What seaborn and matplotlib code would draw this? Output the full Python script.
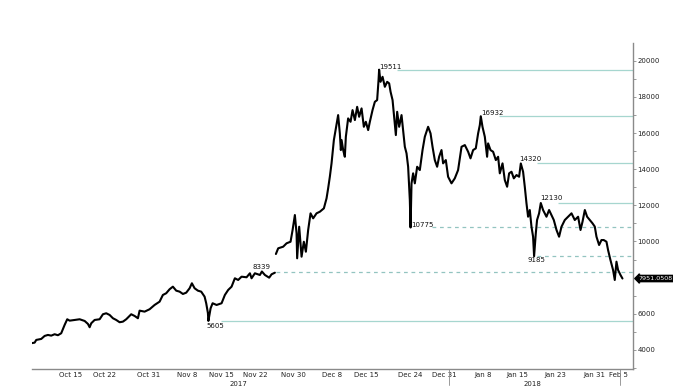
import matplotlib
matplotlib.use("Agg")
import matplotlib.pyplot as plt
import matplotlib.ticker as mticker
import seaborn as sns
import pandas as pd

sns.set_style("white")
plt.rcParams['font.family'] = ['DejaVu Sans']

# days counted from Oct 15 2017, prices
START = pd.Timestamp("2017-10-15")

days_a = [-8.12, -7.42, -7.09, -6.06, -5.36, -4.68, -4.00, -3.30, -2.62, -1.94,
          -1.24, -0.70, -0.20, 0.83, 1.86, 2.89, 3.57, 3.92, 4.25, 4.95,
          5.98, 6.66, 7.34, 8.04, 8.72, 9.40, 10.10, 10.78, 11.46, 12.49,
          13.19, 13.87, 14.22, 15.25, 16.28, 17.31, 18.34, 19.02, 19.70, 20.40,
          21.08, 21.77, 22.47, 23.15, 23.83, 24.53, 25.00, 25.56, 26.24, 26.92,
          27.62, 27.95, 28.30, 28.40, 28.86, 29.27, 30.09, 31.12, 31.80, 32.48,
          33.18, 33.86, 34.54, 35.24, 36.27, 36.96, 37.30, 37.99, 39.02, 39.43,
          40.05, 40.93, 41.43, 42.11]
price_a = [4369, 4402, 4552, 4607, 4773, 4828, 4790, 4867, 4812, 4922,
           5381, 5696, 5619, 5657, 5696, 5602, 5437, 5254, 5475, 5657,
           5696, 5973, 6028, 5934, 5752, 5657, 5531, 5564, 5696, 5973,
           5879, 5752, 6173, 6118, 6250, 6487, 6670, 7041, 7135, 7356,
           7500, 7279, 7224, 7096, 7168, 7411, 7688, 7411, 7279, 7224,
           6947, 6582, 6045, 5605, 6305, 6582, 6487, 6582, 7041, 7318,
           7500, 7964, 7870, 8053, 8020, 8241, 7964, 8241, 8147, 8339,
           8147, 7998, 8185, 8274]

days_b = [42.32, 42.79, 43.82, 44.52, 45.34, 45.76, 46.23, 46.58, 46.70, 47.12,
          47.61, 48.08, 48.50, 48.97, 49.46, 50.00, 50.70, 51.38, 52.21, 52.76,
          53.09, 53.44, 53.79, 54.27, 54.68, 55.15, 55.50, 55.71, 55.86, 56.19,
          56.53, 56.74, 57.21, 57.71, 58.12, 58.60, 59.07, 59.48, 59.98, 60.45,
          60.86, 61.34, 61.69, 62.24, 62.72, 63.19, 63.48, 63.60, 63.89, 64.31,
          64.78, 65.26, 65.67, 65.96, 66.37, 66.70, 67.05, 67.32, 67.73, 68.22,
          68.55, 68.90, 69.25, 69.58, 69.93, 70.08, 70.28, 70.61, 70.96, 71.44,
          71.99, 72.55, 73.02, 73.70, 74.20, 74.61, 75.08, 75.56, 75.97, 76.46,
          76.79, 77.35, 77.82, 78.52, 79.20, 79.88, 80.59, 81.27, 81.95, 82.44,
          82.98, 83.53, 84.01, 84.36, 84.56, 84.91, 85.39, 85.86, 86.07, 86.56,
          87.10, 87.66, 88.13, 88.48, 89.04, 89.51, 89.99, 90.40, 90.89, 91.37,
          91.92, 92.46, 92.81, 93.28, 93.63, 93.98, 94.31, 94.66, 95.01, 95.34,
          95.55, 95.90, 96.16, 96.58, 96.93, 97.40, 98.10, 98.64, 99.13, 99.61,
          100.17, 100.70, 101.20, 101.88, 102.56, 103.26, 103.94, 104.62, 105.12, 105.53,
          106.01, 106.48, 107.03, 107.59, 108.06, 108.41, 108.95, 109.44, 109.91, 110.47,
          110.80, 111.29, 111.83, 112.18, 112.53, 112.86, 113.36, 113.77]
price_b = [9308, 9623, 9712, 9900, 9988, 10636, 11465, 10453, 9070, 10818,
           9159, 9988, 9435, 10636, 11559, 11282, 11559, 11648, 11835, 12389,
           12942, 13584, 14325, 15614, 16261, 16996, 15984, 15061, 15614, 15061,
           14690, 15796, 16813, 16626, 17273, 16720, 17455, 16902, 17367, 16349,
           16626, 16167, 16626, 17273, 17732, 17826, 18932, 19511, 18838, 19115,
           18562, 18838, 18750, 18285, 17826, 16902, 15890, 17179, 16349, 16996,
           16167, 15243, 14878, 14137, 12295, 10775, 13219, 13772, 13219, 14137,
           13954, 15061, 15796, 16349, 15984, 15243, 14507, 14137, 14690, 15061,
           14325, 14507, 13584, 13219, 13495, 13954, 15243, 15337, 14967, 14602,
           15061, 15155, 15984, 16443, 16932, 16349, 15796, 14690, 15431, 15061,
           14967, 14507, 14690, 13772, 14325, 13401, 13031, 13772, 13861, 13495,
           13678, 13584, 14320, 13861, 13031, 12112, 11371, 11742, 10818, 10265,
           9185, 10453, 11189, 11559, 12130, 11742, 11371, 11742, 11466, 11189,
           10636, 10265, 10818, 11189, 11371, 11559, 11189, 11371, 10636, 11095,
           11742, 11371, 11189, 11007, 10825, 10265, 9806, 10081, 10081, 9988,
           9528, 8975, 8423, 7870, 8883, 8423, 8147, 7951]

last_price = "7951.0508"

# highs / lows marked on the chart
level_values = [19511, 16932, 14320, 12130, 10775, 9185, 8339, 5605]
level_label_day = [63.54, 84.56, 92.46, 96.73, 70.28, 94.19, 37.51, 28.03]
level_line_day = [67.25, 88.27, 96.10, 100.40, 74.46, 96.17, 42.42, 30.98]
level_dashed = [False, False, False, False, True, True, True, False]
level_offset = [1.8, 2.2, 3.2, 3.4, 1.8, -2.9, 3.5, -3.4]

y_ticks = [4000, 6000, 8000, 10000, 12000, 14000, 16000, 18000, 20000]
# 8000 sits behind the last price tag in the original
y_tick_labels = ["4000", "6000", "", "10000", "12000", "14000", "16000", "18000", "20000"]

tick_dates = ["2017-10-15", "2017-10-22", "2017-10-31", "2017-11-08", "2017-11-15",
              "2017-11-22", "2017-11-30", "2017-12-08", "2017-12-15", "2017-12-24",
              "2017-12-31", "2018-01-08", "2018-01-15", "2018-01-23", "2018-01-31",
              "2018-02-05"]
tick_labels = ["Oct 15", "Oct 22", "Oct 31", "Nov 8", "Nov 15", "Nov 22", "Nov 30",
               "Dec 8", "Dec 15", "Dec 24", "Dec 31", "Jan 8", "Jan 15", "Jan 23",
               "Jan 31", "Feb 5"]


def to_dates(days):
    return START + pd.to_timedelta(days, unit="D")


df_a = pd.DataFrame({"date": to_dates(days_a), "price": price_a})
df_b = pd.DataFrame({"date": to_dates(days_b), "price": price_b})

fig = plt.figure(figsize=(6.73, 3.92), dpi=100)
ax = fig.add_axes([0.047, 0.059, 0.894, 0.831])

x_left = to_dates([-8.04])[0]
x_right = to_dates([116.0])[0]

teal = "#a6d6cf"
teal_dash = "#93c4c0"
for v, lab_d, line_d, dashed, off in zip(level_values, level_label_day, level_line_day,
                                          level_dashed, level_offset):
    ax.hlines(v, to_dates([line_d])[0], x_right, colors=teal_dash if dashed else teal,
              linestyles=(0, (3, 3)) if dashed else "-", lw=0.9, zorder=1)
    ax.annotate(str(v), xy=(to_dates([lab_d])[0], v), xytext=(0, off),
                textcoords="offset points", ha="left", va="center",
                fontsize=5, color="#111111", zorder=3)

sns.lineplot(data=df_a, x="date", y="price", color="black", lw=1.5, ax=ax, zorder=2)
sns.lineplot(data=df_b, x="date", y="price", color="black", lw=1.5, ax=ax, zorder=2)

ax.set_xlim(x_left, x_right)
ax.set_ylim(2950, 20980)
ax.set_xlabel("")
ax.set_ylabel("")

# axes look
for s in ["left", "top"]:
    ax.spines[s].set_visible(False)
for s in ["right", "bottom"]:
    ax.spines[s].set_color("#8a8a8a")
    ax.spines[s].set_linewidth(1)

ax.yaxis.tick_right()
ax.set_yticks(y_ticks)
ax.set_yticklabels(y_tick_labels)
ax.yaxis.set_minor_locator(mticker.MultipleLocator(1000))
ax.tick_params(axis="y", which="both", direction="out", length=2, width=0.6,
               colors="#8a8a8a", labelcolor="#222222", labelsize=5, pad=1)

ax.set_xticks(pd.to_datetime(tick_dates))
ax.set_xticklabels(tick_labels)
ax.xaxis.set_minor_locator(mticker.MultipleLocator(1))
ax.tick_params(axis="x", which="both", direction="in", length=2, width=0.5,
               colors="#8a8a8a", labelcolor="#222222", labelsize=5, pad=2.5)

# year separators and labels
for sep in [77.97, 113.2]:
    d = to_dates([sep])[0]
    ax.plot([d, d], [0, -0.05], transform=ax.get_xaxis_transform(),
            color="#8a8a8a", lw=0.6, clip_on=False)
ax.text(to_dates([34.5])[0], -0.045, "2017", transform=ax.get_xaxis_transform(),
        ha="center", va="center", fontsize=5, color="#222222")
ax.text(to_dates([95.3])[0], -0.045, "2018", transform=ax.get_xaxis_transform(),
        ha="center", va="center", fontsize=5, color="#222222")

# last price tag
ax.text(1.008, float(last_price), last_price, transform=ax.get_yaxis_transform(),
        ha="left", va="center", fontsize=4.6, color="white", zorder=5,
        bbox=dict(boxstyle="larrow,pad=0.1", fc="black", ec="black"))

fig.savefig("out.png", dpi=100)
